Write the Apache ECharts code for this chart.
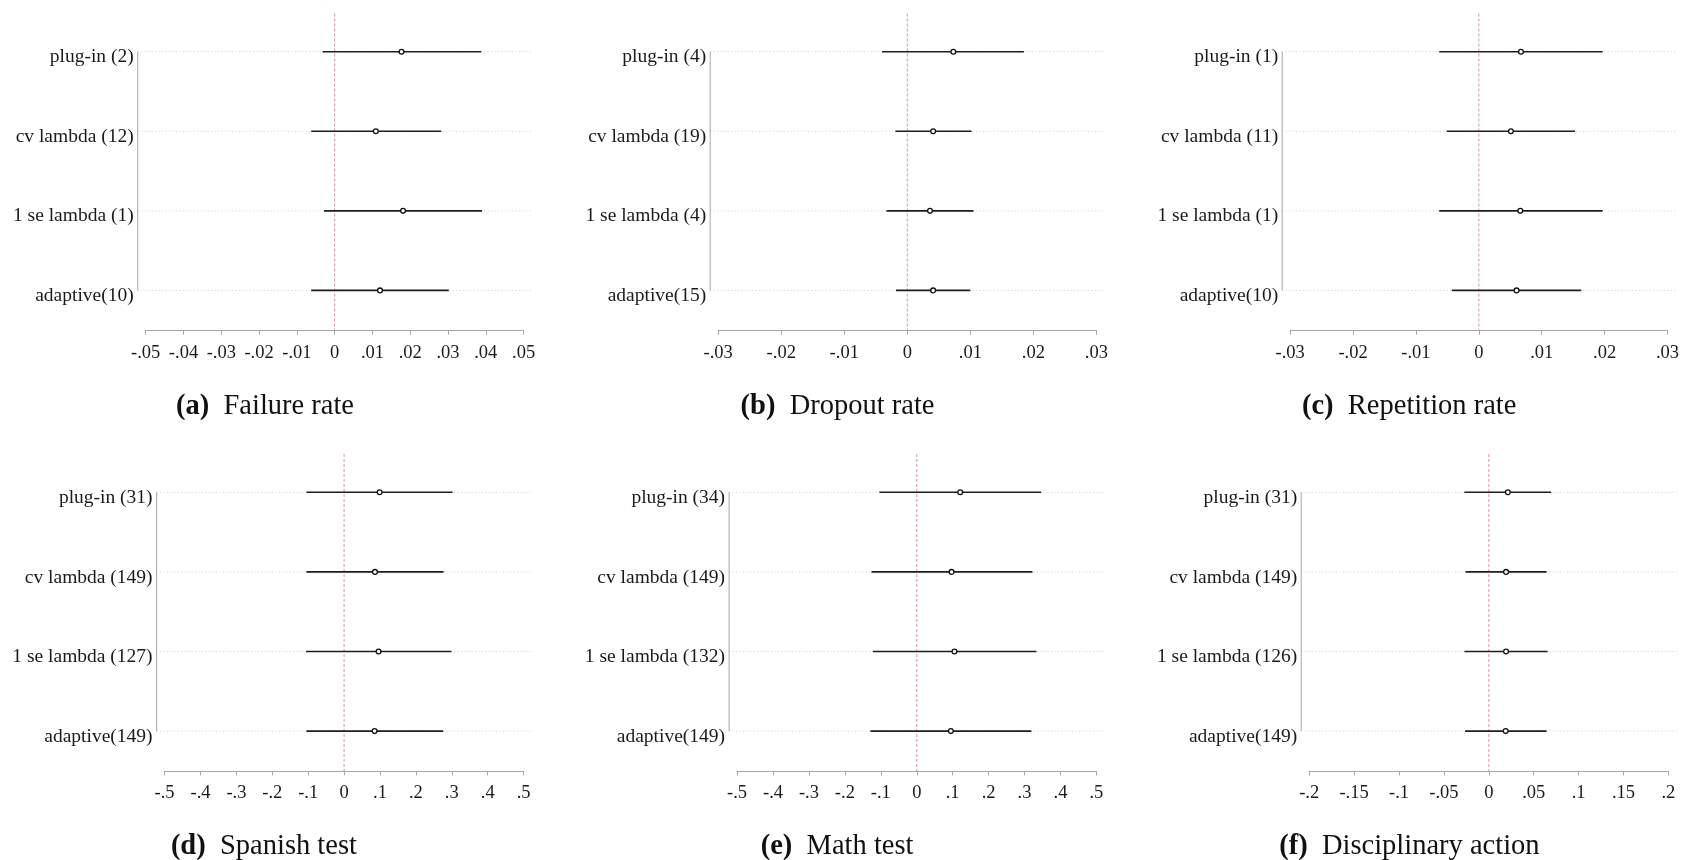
<!DOCTYPE html>
<html><head><meta charset="utf-8">
<script src="https://cdn.jsdelivr.net/npm/echarts@6/dist/echarts.min.js"></script>
<style>html,body{margin:0;padding:0;background:#fff}#c{width:1682px;height:860px}</style>
</head><body><div id="c"></div>
<script>
// ---------- DATA ----------
const captionsBold = ['(a)', '(b)', '(c)', '(d)', '(e)', '(f)'];
const captionsText = ['Failure rate', 'Dropout rate', 'Repetition rate', 'Spanish test', 'Math test', 'Disciplinary action'];

const labelsA = ['plug-in (2)', 'cv lambda (12)', '1 se lambda (1)', 'adaptive(10)'];
const estA = [0.0177, 0.0109, 0.0181, 0.0120];
const loA  = [-0.0032, -0.0062, -0.0028, -0.0062];
const hiA  = [0.0388, 0.0282, 0.0390, 0.0302];

const labelsB = ['plug-in (4)', 'cv lambda (19)', '1 se lambda (4)', 'adaptive(15)'];
const estB = [0.0073, 0.0041, 0.0036, 0.0041];
const loB  = [-0.0040, -0.0019, -0.0033, -0.0018];
const hiB  = [0.0185, 0.0102, 0.0105, 0.0100];

const labelsC = ['plug-in (1)', 'cv lambda (11)', '1 se lambda (1)', 'adaptive(10)'];
const estC = [0.0067, 0.0051, 0.0066, 0.0060];
const loC  = [-0.0063, -0.0051, -0.0063, -0.0043];
const hiC  = [0.0197, 0.0153, 0.0197, 0.0163];

const labelsD = ['plug-in (31)', 'cv lambda (149)', '1 se lambda (127)', 'adaptive(149)'];
const estD = [0.099, 0.086, 0.096, 0.085];
const loD  = [-0.105, -0.105, -0.106, -0.105];
const hiD  = [0.302, 0.277, 0.299, 0.276];

const labelsE = ['plug-in (34)', 'cv lambda (149)', '1 se lambda (132)', 'adaptive(149)'];
const estE = [0.121, 0.097, 0.105, 0.095];
const loE  = [-0.104, -0.126, -0.122, -0.129];
const hiE  = [0.346, 0.322, 0.333, 0.319];

const labelsF = ['plug-in (31)', 'cv lambda (149)', '1 se lambda (126)', 'adaptive(149)'];
const estF = [0.0212, 0.0192, 0.0192, 0.0188];
const loF  = [-0.0272, -0.0260, -0.0272, -0.0264];
const hiF  = [0.0695, 0.0643, 0.0655, 0.0643];

// x-axis scales (tick labels derive from these)
const xMin = [-0.05, -0.03, -0.03, -0.5, -0.5, -0.2];
const xMax = [0.05, 0.03, 0.03, 0.5, 0.5, 0.2];
const xStep = [0.01, 0.01, 0.01, 0.1, 0.1, 0.05];

// ---------- LAYOUT / STYLE ----------
const panels = [
  {labels: labelsA, est: estA, lo: loA, hi: hiA},
  {labels: labelsB, est: estB, lo: loB, hi: hiB},
  {labels: labelsC, est: estC, lo: loC, hi: hiC},
  {labels: labelsD, est: estD, lo: loD, hi: hiD},
  {labels: labelsE, est: estE, lo: loE, hi: hiE},
  {labels: labelsF, est: estF, lo: loF, hi: hiF}
];
const layout = [
  {left: 145.7, width: 377.9, top: 11.9, height: 318.3, capX: 265.0, capY: 407.5},
  {left: 718.2, width: 378.2, top: 11.9, height: 318.3, capX: 837.5, capY: 407.5},
  {left: 1290.2, width: 378.5, top: 11.9, height: 318.3, capX: 1409.2, capY: 407.5},
  {left: 164.6, width: 359.0, top: 452.5, height: 318.4, capX: 263.9, capY: 847.3},
  {left: 737.1, width: 359.3, top: 452.5, height: 318.4, capX: 837.1, capY: 847.3},
  {left: 1309.2, width: 359.2, top: 452.5, height: 318.4, capX: 1409.4, capY: 847.3}
];
const FONT = '"Liberation Serif", "Times New Roman", serif';
const AXIS_GRAY = '#a6a6a6';
const GRID_GRAY = '#cfcfcf';
const REF_RED = '#e39ab8';
const BAR_COLOR = '#1e1e1e';
const AXIS_OFFSET = 8;
const YLAB_SIZE = 19.5;
const XLAB_SIZE = 18.5;
const CAP_SIZE = 28.5;

function fmtTick(v) {
  let s = String(Number(v.toFixed(4)));
  if (s === '0' || s === '-0') return '0';
  return s.replace(/^(-?)0\./, '$1.');
}

const grids = [], xAxes = [], yAxes = [], series = [], titles = [];
panels.forEach((p, k) => {
  const L = layout[k];
  grids.push({left: L.left, width: L.width, top: L.top, height: L.height, containLabel: false});
  xAxes.push({
    type: 'value', gridIndex: k, min: xMin[k], max: xMax[k], interval: xStep[k],
    axisLine: {show: true, lineStyle: {color: AXIS_GRAY, width: 1}},
    axisTick: {show: true, length: 4.5, lineStyle: {color: AXIS_GRAY, width: 1}},
    splitLine: {show: false},
    axisLabel: {show: true, margin: 13, fontFamily: FONT, fontSize: XLAB_SIZE, color: '#1a1a1a',
      formatter: fmtTick, showMinLabel: true, showMaxLabel: true, hideOverlap: false}
  });
  yAxes.push({
    type: 'category', gridIndex: k, inverse: true, data: p.labels,
    axisLine: {show: false}, axisTick: {show: false}, splitLine: {show: false},
    axisLabel: {show: true, margin: 12, fontFamily: FONT, fontSize: YLAB_SIZE, color: '#1a1a1a',
      formatter: v => '{l|' + v + '}',
      rich: {l: {fontFamily: FONT, fontSize: YLAB_SIZE, color: '#1a1a1a', padding: [11, 0, 0, 0]}}}
  });
  // frame: dotted row guides, short y-axis line, dashed zero reference
  series.push({
    type: 'custom', xAxisIndex: k, yAxisIndex: k, silent: true, clip: false, z: 1,
    data: [[0, 0]], encode: {x: 0, y: 1},
    renderItem: function (params, api) {
      const cs = params.coordSys;
      const x0 = cs.x - AXIS_OFFSET, x1 = cs.x + cs.width + AXIS_OFFSET;
      const children = [];
      const n = p.labels.length;
      for (let i = 0; i < n; i++) {
        const y = api.coord([0, i])[1];
        children.push({type: 'line', shape: {x1: x0, y1: y, x2: x1, y2: y},
          style: {stroke: GRID_GRAY, lineWidth: 1, lineDash: [1, 2.5]}});
      }
      const yTop = api.coord([0, 0])[1], yBot = api.coord([0, n - 1])[1];
      children.push({type: 'line', shape: {x1: x0, y1: yTop, x2: x0, y2: yBot},
        style: {stroke: AXIS_GRAY, lineWidth: 1}});
      const zx = api.coord([0, 0])[0];
      children.push({type: 'line', shape: {x1: zx, y1: cs.y + 1.5, x2: zx, y2: cs.y + cs.height},
        style: {stroke: REF_RED, lineWidth: 1.1, lineDash: [3, 2]}});
      return {type: 'group', children: children};
    }
  });
  // estimates with confidence intervals
  const d = p.labels.map((_, i) => [i, p.lo[i], p.est[i], p.hi[i]]);
  series.push({
    type: 'custom', xAxisIndex: k, yAxisIndex: k, clip: false, z: 3,
    data: d, encode: {y: 0, x: [1, 2, 3]},
    renderItem: function (params, api) {
      const row = api.value(0);
      const a = api.coord([api.value(1), row]);
      const c = api.coord([api.value(2), row]);
      const b = api.coord([api.value(3), row]);
      return {type: 'group', children: [
        {type: 'line', shape: {x1: a[0], y1: a[1], x2: b[0], y2: b[1]},
          style: {stroke: BAR_COLOR, lineWidth: 1.6}},
        {type: 'circle', shape: {cx: c[0], cy: c[1], r: 2.4},
          style: {fill: '#ffffff', stroke: '#111', lineWidth: 1.3}}
      ]};
    }
  });
  titles.push({
    text: '{b|' + captionsBold[k] + '}  ' + captionsText[k],
    left: L.capX, top: L.capY - 15, textAlign: 'center', padding: 0,
    textStyle: {fontFamily: FONT, fontSize: CAP_SIZE, fontWeight: 'normal', color: '#111',
      rich: {b: {fontFamily: FONT, fontSize: CAP_SIZE, fontWeight: 'bold', color: '#111'}}}
  });
});

const chart = echarts.init(document.getElementById('c'), null, {renderer: 'canvas'});
chart.setOption({
  animation: false,
  backgroundColor: '#ffffff',
  title: titles,
  grid: grids,
  xAxis: xAxes,
  yAxis: yAxes,
  series: series
});
</script>
</body></html>
